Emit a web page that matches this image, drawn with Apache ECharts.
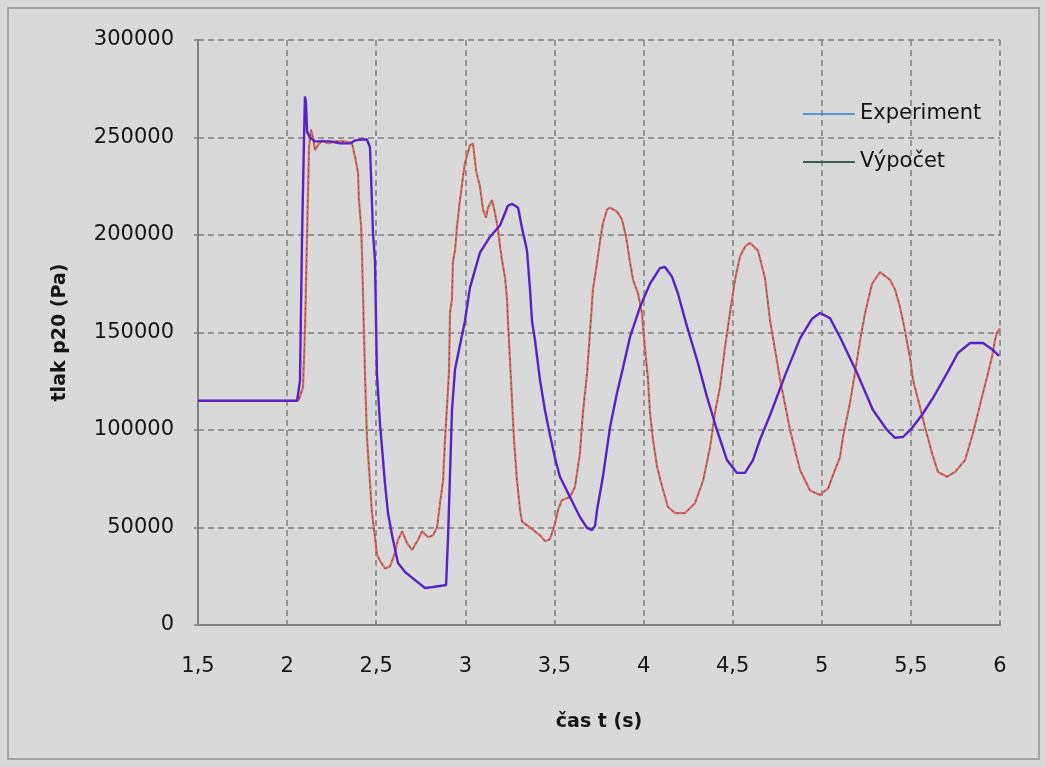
<!DOCTYPE html>
<html>
<head>
<meta charset="utf-8">
<script src="https://cdn.jsdelivr.net/npm/echarts@6/dist/echarts.min.js"></script>
<style>
html,body{margin:0;padding:0;background:#e3e3e3;}
#c{width:1046px;height:767px;}
</style>
</head>
<body>
<div id="c"></div>
<script>
// time axis (s)
const xTicks = [1.5, 2, 2.5, 3, 3.5, 4, 4.5, 5, 5.5, 6];
const yTicks = [0, 50000, 100000, 150000, 200000, 250000, 300000];

// Experiment: time and pressure (Pa)
const expTime = [1.500, 2.044, 2.056, 2.072, 2.084, 2.095, 2.100, 2.106, 2.112, 2.128, 2.157, 2.185, 2.241, 2.297, 2.353, 2.381, 2.420, 2.448, 2.465, 2.471, 2.482, 2.493, 2.504, 2.521, 2.549, 2.566, 2.589, 2.622, 2.662, 2.718, 2.774, 2.819, 2.892, 2.903, 2.914, 2.925, 2.942, 2.998, 3.026, 3.082, 3.138, 3.195, 3.239, 3.262, 3.296, 3.318, 3.346, 3.363, 3.374, 3.391, 3.419, 3.447, 3.475, 3.503, 3.531, 3.587, 3.643, 3.683, 3.711, 3.728, 3.739, 3.772, 3.812, 3.851, 3.885, 3.924, 3.980, 4.036, 4.092, 4.120, 4.160, 4.193, 4.244, 4.300, 4.356, 4.412, 4.468, 4.524, 4.569, 4.614, 4.653, 4.710, 4.794, 4.878, 4.945, 4.990, 5.046, 5.102, 5.198, 5.287, 5.366, 5.411, 5.456, 5.506, 5.562, 5.624, 5.703, 5.764, 5.832, 5.905, 5.961, 5.994];
const expValue = [115000, 115000, 115000, 125000, 200000, 250000, 271000, 268000, 253000, 250000, 248000, 248000, 248000, 247000, 247000, 248500, 249000, 249000, 245000, 230000, 201000, 187000, 129000, 103500, 72800, 57400, 46000, 31800, 27200, 23000, 19000, 19500, 20500, 45000, 77000, 110000, 131000, 156000, 173000, 191000, 199000, 205000, 215000, 216000, 214000, 203600, 192000, 172000, 156000, 146000, 125600, 110000, 97400, 85600, 76000, 65600, 55400, 49800, 48700, 51000, 59000, 76000, 101500, 119000, 132000, 147700, 163000, 175000, 183000, 183600, 178500, 170000, 153000, 136000, 117000, 100000, 84600, 78000, 78000, 84600, 95000, 107700, 128000, 147000, 157000, 160000, 157400, 147700, 129200, 110300, 100000, 96000, 96400, 101000, 107700, 116400, 129200, 139500, 144600, 144600, 141000, 138000];

// Výpočet: time and pressure (Pa)
const calcTime = [1.500, 2.061, 2.072, 2.089, 2.100, 2.112, 2.123, 2.134, 2.145, 2.157, 2.173, 2.196, 2.229, 2.269, 2.325, 2.364, 2.381, 2.398, 2.403, 2.415, 2.420, 2.437, 2.448, 2.465, 2.476, 2.493, 2.504, 2.521, 2.549, 2.577, 2.605, 2.622, 2.645, 2.673, 2.701, 2.734, 2.757, 2.791, 2.819, 2.841, 2.858, 2.875, 2.886, 2.897, 2.908, 2.914, 2.925, 2.931, 2.942, 2.953, 2.970, 2.987, 2.998, 3.026, 3.043, 3.060, 3.082, 3.099, 3.116, 3.127, 3.150, 3.167, 3.183, 3.195, 3.206, 3.223, 3.234, 3.239, 3.256, 3.273, 3.290, 3.307, 3.318, 3.363, 3.419, 3.447, 3.475, 3.503, 3.520, 3.542, 3.587, 3.615, 3.643, 3.660, 3.683, 3.700, 3.716, 3.739, 3.756, 3.772, 3.795, 3.812, 3.851, 3.879, 3.902, 3.924, 3.941, 3.969, 3.991, 4.008, 4.025, 4.036, 4.053, 4.076, 4.104, 4.137, 4.177, 4.233, 4.289, 4.334, 4.373, 4.401, 4.429, 4.457, 4.485, 4.513, 4.541, 4.569, 4.597, 4.642, 4.681, 4.710, 4.766, 4.822, 4.878, 4.934, 4.990, 5.035, 5.074, 5.102, 5.119, 5.158, 5.186, 5.215, 5.243, 5.282, 5.327, 5.383, 5.411, 5.439, 5.467, 5.495, 5.512, 5.551, 5.579, 5.619, 5.652, 5.703, 5.748, 5.804, 5.849, 5.899, 5.927, 5.955, 5.972, 5.983, 6.000];
const calcValue = [115000, 115000, 117000, 122000, 150000, 200000, 245000, 254000, 250000, 243500, 246000, 248500, 247000, 248000, 248000, 247000, 240000, 232000, 218000, 205000, 191000, 129000, 96000, 73000, 57400, 45000, 36000, 33000, 29000, 30000, 37000, 43600, 48000, 42000, 38500, 43600, 48000, 45000, 46000, 50000, 62500, 74000, 95000, 112000, 129000, 160000, 167000, 187000, 192000, 204000, 218000, 230000, 237000, 246000, 247000, 233000, 225000, 213000, 209000, 214000, 218000, 211000, 203000, 194000, 187000, 178000, 167000, 156000, 126000, 95000, 74000, 59000, 53000, 50000, 46000, 43000, 44000, 52000, 59000, 64000, 65600, 70800, 88000, 109000, 129000, 151000, 172000, 186000, 197000, 206000, 213000, 214000, 212000, 208000, 199000, 186000, 177000, 170000, 160000, 142000, 126000, 109000, 95000, 81000, 71000, 60500, 57400, 57400, 62600, 74000, 91000, 109000, 122000, 142500, 160000, 177000, 189000, 194000, 196000, 192000, 178000, 156000, 126000, 100000, 79500, 69000, 66700, 70000, 79500, 86000, 96400, 113800, 129200, 146000, 160000, 175000, 181000, 177000, 172000, 163000, 151000, 137000, 125600, 111800, 101500, 88000, 78500, 76000, 78500, 84600, 98500, 117000, 127000, 137500, 146000, 150000, 152000];

const pairs = (t, v) => t.map((x, i) => [x, v[i]]);

const chart = echarts.init(document.getElementById('c'));
const txt = '#151515';
const grid = '#808080';
chart.setOption({
  backgroundColor: '#d9d9d9',
  animation: false,
  graphic: [{
    type: 'rect', silent: true,
    shape: {x: 8, y: 8, width: 1031, height: 751},
    style: {fill: 'none', stroke: '#a3a3a3', lineWidth: 2}
  }],
  grid: {left: 198, right: 46, top: 40, bottom: 142, containLabel: false},
  legend: {
    orient: 'vertical',
    left: 798, top: 97,
    icon: 'rect',
    itemWidth: 52, itemHeight: 2, itemGap: 24,
    textStyle: {fontFamily: 'DejaVu Sans', fontSize: 21, color: txt, padding: [0, 0, 0, 0], lineHeight: 24},
    data: [
      {name: 'Experiment', itemStyle: {color: '#5b8fd6'}},
      {name: 'Výpočet', itemStyle: {color: '#3c5c58'}}
    ]
  },
  xAxis: {
    type: 'value', min: xTicks[0], max: xTicks[xTicks.length - 1], interval: 0.5,
    name: 'čas t (s)', nameLocation: 'middle', nameGap: 88,
    nameTextStyle: {fontFamily: 'DejaVu Sans', fontWeight: 'bold', fontSize: 19, color: txt},
    axisLine: {show: true, lineStyle: {color: grid, width: 2}},
    axisTick: {show: false},
    axisLabel: {margin: 31, fontFamily: 'DejaVu Sans', fontSize: 21, color: txt,
      formatter: v => String(v).replace('.', ',')},
    splitLine: {show: true, lineStyle: {color: grid, width: 1.5, type: [6, 4]}}
  },
  yAxis: {
    type: 'value', min: yTicks[0], max: yTicks[yTicks.length - 1], interval: 50000,
    name: 'tlak p20 (Pa)', nameLocation: 'middle', nameGap: 128,
    nameTextStyle: {fontFamily: 'DejaVu Sans', fontWeight: 'bold', fontSize: 19, color: txt},
    axisLine: {show: true, lineStyle: {color: grid, width: 2}},
    axisTick: {show: true, length: 4, lineStyle: {color: grid, width: 1.5}},
    axisLabel: {margin: 24, fontFamily: 'DejaVu Sans', fontSize: 21, color: txt,
      formatter: v => String(v)},
    splitLine: {show: true, lineStyle: {color: grid, width: 1.5, type: [6, 4]}}
  },
  series: [
    {name: 'Výpočet', type: 'line', data: pairs(calcTime, calcValue), symbol: 'none',
      lineStyle: {color: '#dd6a60', width: 2.2}, itemStyle: {color: '#3c5c58'}, z: 3},
    {name: 'Výpočet ', type: 'line', data: pairs(calcTime, calcValue), symbol: 'none',
      lineStyle: {color: '#3c5c58', width: 1, type: [2, 4]}, z: 4, legendHoverLink: false},
    {name: 'Experiment', type: 'line', data: pairs(expTime, expValue), symbol: 'none',
      lineStyle: {color: '#5a22c4', width: 2.4}, itemStyle: {color: '#5b8fd6'}, z: 5}
  ]
});
</script>
</body>
</html>
